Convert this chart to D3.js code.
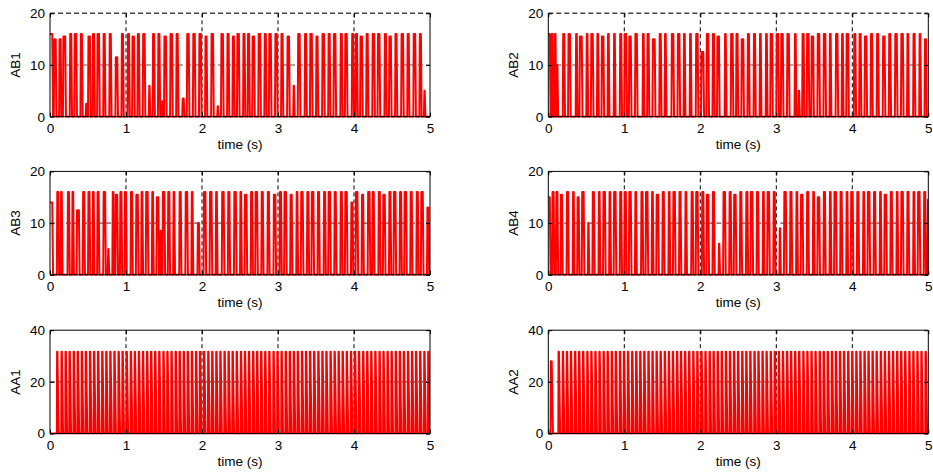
<!DOCTYPE html>
<html>
<head>
<meta charset="utf-8">
<script src="https://cdn.jsdelivr.net/npm/d3@7"></script>
<style>
  body { margin: 0; background: #fff; }
  svg { display: block; }
  text { font-family: "Liberation Sans", Arial, Helvetica, sans-serif; fill: #000; }
</style>
</head>
<body>
<svg id="fig" width="933" height="474"></svg>
<script>
// ---- data ----------------------------------------------------------------
const timeTicks = [0, 1, 2, 3, 4, 5];
const abTicks = [0, 10, 20];
const aaTicks = [0, 20, 40];
const xLabel = "time (s)";

// AB pulses: [on time (s), off time (s), level]
const ab1 = [[0.00,0.03,16],[0.05,0.075,15],[0.12,0.14,15],[0.17,0.20,15.5],[0.26,0.28,16],[0.32,0.345,16],[0.40,0.42,16],[0.47,0.48,2.5],
  [0.50,0.525,15.5],[0.56,0.58,16],[0.62,0.645,16],[0.70,0.72,16],[0.78,0.80,16],[0.86,0.885,11.5],[0.94,0.96,16],[1.02,1.04,16],
  [1.08,1.105,15.5],[1.15,1.17,16],[1.22,1.245,16],[1.30,1.31,6],[1.35,1.37,16],[1.42,1.44,16],[1.47,1.48,3],[1.50,1.525,15.5],
  [1.58,1.605,16],[1.66,1.68,16],[1.74,1.76,3.5],[1.80,1.825,16],[1.88,1.905,16],[1.96,1.985,16],[2.04,2.06,15.5],[2.12,2.145,16],
  [2.20,2.21,2],[2.25,2.275,16],[2.33,2.35,16],[2.40,2.42,15.5],[2.46,2.485,16],[2.54,2.56,16],[2.60,2.62,16],[2.66,2.685,15.5],
  [2.74,2.765,16],[2.82,2.84,16],[2.88,2.905,16],[2.96,2.985,16],[3.04,3.06,16],[3.12,3.145,15.5],[3.20,3.21,6],[3.26,3.285,16],
  [3.35,3.37,16],[3.42,3.445,16],[3.50,3.52,15.5],[3.58,3.605,16],[3.66,3.68,16],[3.73,3.755,16],[3.82,3.84,16],[3.88,3.905,16],
  [3.97,3.99,16],[4.02,4.04,16],[4.08,4.105,15.5],[4.16,4.18,16],[4.24,4.265,16],[4.31,4.335,16],[4.40,4.42,16],[4.46,4.485,15.5],
  [4.54,4.56,16],[4.62,4.645,16],[4.70,4.72,16],[4.78,4.805,16],[4.86,4.88,16],[4.92,4.93,5]];

const ab2 = [[0.00,0.02,16],[0.04,0.055,16],[0.08,0.095,16],[0.11,0.12,10],[0.19,0.21,16],[0.26,0.285,16],[0.36,0.375,16],[0.41,0.44,15.5],
  [0.50,0.515,16],[0.56,0.585,16],[0.64,0.655,16],[0.70,0.725,15.5],[0.78,0.795,16],[0.86,0.875,16],[0.94,0.96,16],[1.00,1.025,16],
  [1.06,1.085,15.5],[1.14,1.165,16],[1.24,1.255,16],[1.30,1.32,16],[1.37,1.40,15],[1.46,1.48,16],[1.53,1.545,16],[1.62,1.645,16],
  [1.70,1.725,16],[1.78,1.795,16],[1.86,1.875,16],[1.94,1.965,16],[2.01,2.04,12.5],[2.08,2.105,16],[2.16,2.18,16],[2.22,2.245,15.5],
  [2.32,2.335,16],[2.40,2.425,16],[2.47,2.49,16],[2.54,2.565,15],[2.62,2.64,16],[2.70,2.72,16],[2.78,2.795,16],[2.86,2.875,16],
  [2.92,2.945,16],[3.00,3.025,16],[3.06,3.085,16],[3.14,3.165,16],[3.24,3.255,16],[3.29,3.30,5],[3.34,3.36,16],[3.40,3.425,16],
  [3.46,3.485,15.5],[3.54,3.565,16],[3.62,3.645,16],[3.70,3.715,16],[3.78,3.805,16],[3.86,3.875,16],[3.92,3.945,16],[4.02,4.04,16],
  [4.09,4.11,16],[4.16,4.185,15.5],[4.24,4.26,16],[4.32,4.34,16],[4.40,4.425,15.5],[4.48,4.50,16],[4.56,4.585,16],[4.64,4.665,16],
  [4.72,4.735,16],[4.80,4.82,16],[4.88,4.895,16],[4.95,4.97,15]];

const ab3 = [[0.00,0.03,14],[0.09,0.11,16],[0.14,0.155,16],[0.23,0.25,16],[0.29,0.305,16],[0.35,0.38,12.5],[0.43,0.45,16],[0.50,0.52,16],
  [0.56,0.575,16],[0.62,0.64,16],[0.70,0.725,16],[0.76,0.77,5],[0.82,0.835,16],[0.86,0.885,15.5],[0.92,0.94,16],[0.98,1.00,16],
  [1.06,1.08,16],[1.13,1.155,15.5],[1.20,1.215,16],[1.26,1.285,16],[1.34,1.355,16],[1.40,1.425,15],[1.45,1.46,8.5],[1.48,1.505,16],
  [1.55,1.57,16],[1.62,1.635,16],[1.70,1.72,16],[1.78,1.805,16],[1.86,1.875,16],[1.94,1.96,10],[2.02,2.045,16],[2.10,2.125,16],
  [2.18,2.195,16],[2.26,2.285,16],[2.34,2.36,16],[2.42,2.445,16],[2.50,2.515,16],[2.56,2.585,15.5],[2.64,2.66,16],[2.70,2.725,16],
  [2.78,2.80,16],[2.86,2.88,16],[2.94,2.965,15.5],[3.02,3.04,16],[3.08,3.105,16],[3.16,3.18,15.5],[3.24,3.255,16],[3.30,3.325,16],
  [3.38,3.40,16],[3.44,3.465,16],[3.52,3.54,16],[3.60,3.62,16],[3.66,3.685,16],[3.74,3.76,16],[3.82,3.84,16],[3.88,3.905,16],
  [3.96,3.98,14],[4.02,4.045,16],[4.10,4.12,15.5],[4.18,4.205,16],[4.24,4.26,16],[4.32,4.34,16],[4.38,4.405,15.5],[4.46,4.48,16],
  [4.52,4.545,16],[4.60,4.62,16],[4.66,4.685,16],[4.74,4.76,16],[4.82,4.84,16],[4.88,4.905,16],[4.96,4.98,13]];

const ab4 = [[0.00,0.02,15],[0.05,0.07,16],[0.10,0.12,16],[0.16,0.18,15.5],[0.24,0.26,16],[0.32,0.335,16],[0.38,0.40,15],[0.44,0.465,16],
  [0.52,0.53,10],[0.58,0.60,16],[0.66,0.675,16],[0.72,0.745,16],[0.80,0.815,16],[0.86,0.885,16],[0.94,0.96,16],[1.00,1.02,16],
  [1.06,1.085,16],[1.14,1.155,16],[1.22,1.24,16],[1.28,1.305,16],[1.36,1.375,16],[1.42,1.445,15.5],[1.50,1.52,16],[1.58,1.595,16],
  [1.64,1.665,16],[1.72,1.74,16],[1.80,1.815,16],[1.88,1.90,16],[1.94,1.965,16],[2.02,2.04,16],[2.08,2.105,15.5],[2.16,2.18,16],
  [2.24,2.25,6],[2.30,2.325,16],[2.38,2.40,16],[2.44,2.465,15.5],[2.52,2.54,16],[2.60,2.62,16],[2.66,2.685,16],[2.74,2.76,16],
  [2.82,2.835,16],[2.88,2.905,16],[2.96,2.98,16],[3.04,3.05,9],[3.10,3.125,16],[3.18,3.20,16],[3.26,3.275,16],[3.32,3.345,15.5],
  [3.40,3.42,16],[3.48,3.495,16],[3.54,3.565,15],[3.62,3.64,16],[3.70,3.715,16],[3.76,3.785,16],[3.84,3.86,16],[3.92,3.935,16],
  [3.98,4.005,16],[4.06,4.08,16],[4.14,4.155,16],[4.20,4.225,16],[4.28,4.30,16],[4.36,4.375,16],[4.42,4.445,15.5],[4.50,4.52,16],
  [4.58,4.595,16],[4.64,4.665,16],[4.72,4.74,16],[4.80,4.815,16],[4.86,4.885,16],[4.94,4.96,16],[4.99,5.00,14.5]];

// AA pulses: on times (s); every AA pulse holds aaLevel for aaOnTime
const aaLevel = 31.7;
const aaOnTime = 0.008;
const aa1 = [0.090,0.148,0.201,0.253,0.308,0.360,0.414,0.467,0.522,0.575,0.628,0.683,0.736,0.789,0.843,0.898,0.950,1.004,
  1.059,1.111,1.165,1.218,1.273,1.326,1.379,1.433,1.488,1.540,1.594,1.649,1.701,1.755,1.808,1.862,1.917,1.969,2.023,2.078,
  2.130,2.184,2.237,2.292,2.345,2.398,2.452,2.507,2.560,2.613,2.668,2.720,2.774,2.827,2.881,2.936,2.988,3.042,3.097,3.150,
  3.203,3.256,3.311,3.364,3.417,3.471,3.526,3.579,3.632,3.687,3.740,3.793,3.846,3.900,3.955,4.008,4.061,4.116,4.169,4.222,
  4.276,4.331,4.383,4.437,4.490,4.545,4.598,4.651,4.706,4.759,4.812,4.866,4.921,4.973];
const aa2First = [0.030, 0.045, 28];
const aa2 = [0.132,0.187,0.240,0.293,0.348,0.401,0.454,0.509,0.562,0.615,0.669,0.723,0.776,0.830,0.883,0.938,0.991,1.044,
  1.099,1.152,1.205,1.258,1.313,1.366,1.420,1.473,1.528,1.581,1.634,1.689,1.741,1.795,1.848,1.903,1.956,2.010,2.063,2.118,
  2.170,2.224,2.277,2.332,2.385,2.439,2.492,2.547,2.600,2.653,2.708,2.760,2.814,2.867,2.922,2.975,3.029,3.082,3.137,3.189,
  3.243,3.296,3.351,3.404,3.458,3.511,3.566,3.619,3.672,3.727,3.779,3.833,3.886,3.941,3.994,4.048,4.101,4.156,4.208,4.262,
  4.315,4.370,4.423,4.477,4.530,4.585,4.638,4.691,4.746,4.798,4.852,4.905,4.960];

// ---- drawing -------------------------------------------------------------
const svg = d3.select("#fig");
const plotW = 380, plotH = 103.4;

function pulsePoints(pulses, rise, fall) {
  const pts = [];
  pulses.forEach(([t0, t1, v]) => {
    if (t0 <= 0) { pts.push([0, v]); }
    else { pts.push([t0, 0]); pts.push([t0 + rise, v]); }
    pts.push([t1, v]);
    if (t1 < 5) pts.push([t1 + fall, 0]);
  });
  if (pts.length && pts[0][0] > 0) pts.unshift([0, 0]);
  if (pts[pts.length - 1][0] < 5) pts.push([5, 0]);
  return pts;
}

const aa1Pulses = aa1.map(t => [t, t + aaOnTime, aaLevel]);
const aa2Pulses = [aa2First].concat(aa2.map(t => [t, Math.min(5, t + aaOnTime), aaLevel]));

const panels = [
  { name: "AB1", pts: pulsePoints(ab1, 0.006, 0.010), ymax: 20, ticks: abTicks, x0: 50,    y0: 13.3,  topRow: true },
  { name: "AB2", pts: pulsePoints(ab2, 0.006, 0.010), ymax: 20, ticks: abTicks, x0: 548.3, y0: 13.3,  topRow: true },
  { name: "AB3", pts: pulsePoints(ab3, 0.006, 0.010), ymax: 20, ticks: abTicks, x0: 50,    y0: 171.4 },
  { name: "AB4", pts: pulsePoints(ab4, 0.006, 0.010), ymax: 20, ticks: abTicks, x0: 548.3, y0: 171.4 },
  { name: "AA1", pts: pulsePoints(aa1Pulses, 0.003, 0.016), ymax: 40, ticks: aaTicks, x0: 50,    y0: 330.2 },
  { name: "AA2", pts: pulsePoints(aa2Pulses, 0.003, 0.016), ymax: 40, ticks: aaTicks, x0: 548.3, y0: 330.2 }
];

panels.forEach((p, i) => {
  const x = d3.scaleLinear().domain([0, 5]).range([p.x0, p.x0 + plotW]);
  const y = d3.scaleLinear().domain([0, p.ymax]).range([p.y0 + plotH, p.y0]);
  const g = svg.append("g");

  // grid (under the trace)
  g.selectAll(".vgrid").data(timeTicks.slice(1, -1)).enter().append("line")
    .attr("x1", d => x(d)).attr("x2", d => x(d))
    .attr("y1", p.y0).attr("y2", p.y0 + plotH)
    .attr("stroke", "#000").attr("stroke-width", 1).attr("stroke-dasharray", "4,3");
  g.selectAll(".hgrid").data(p.ticks.slice(1, -1)).enter().append("line")
    .attr("x1", p.x0).attr("x2", p.x0 + plotW)
    .attr("y1", d => y(d)).attr("y2", d => y(d))
    .attr("stroke", "#555").attr("stroke-width", 1.2).attr("stroke-dasharray", "5,3");

  // trace
  const clipId = "clip" + i;
  svg.append("clipPath").attr("id", clipId).append("rect")
    .attr("x", p.x0).attr("y", p.y0 - 1).attr("width", plotW).attr("height", plotH + 2);
  const line = d3.line().x(d => x(d[0])).y(d => y(d[1]));
  g.append("path").attr("d", line(p.pts))
    .attr("clip-path", `url(#${clipId})`)
    .attr("fill", "none").attr("stroke", "#ff0000").attr("stroke-width", 2)
    .attr("stroke-linejoin", "round");

  // box: the upper row shows its top edge as the dashed grid line at the axis maximum
  const x1 = p.x0 + plotW, yb = p.y0 + plotH;
  g.append("path").attr("d", `M${p.x0},${p.y0}V${yb}H${x1}V${p.y0}` + (p.topRow ? "" : `H${p.x0}`))
    .attr("fill", "none").attr("stroke", "#000").attr("stroke-width", 1);
  if (p.topRow) {
    g.append("line").attr("x1", p.x0).attr("x2", x1).attr("y1", p.y0).attr("y2", p.y0)
      .attr("stroke", "#444").attr("stroke-width", 1.4).attr("stroke-dasharray", "5,3");
  }

  // axes (inward ticks on all four sides)
  const ax = d3.axisBottom(x).tickValues(timeTicks).tickFormat(d3.format("d")).tickSizeInner(-4).tickSizeOuter(0).tickPadding(7);
  const axB = g.append("g").attr("transform", `translate(0,${yb})`).call(ax);
  const axT = g.append("g").attr("transform", `translate(0,${p.y0})`)
    .call(d3.axisTop(x).tickValues(timeTicks).tickFormat("").tickSizeInner(-4).tickSizeOuter(0));
  const axL = g.append("g").attr("transform", `translate(${p.x0},0)`)
    .call(d3.axisLeft(y).tickValues(p.ticks).tickFormat(d3.format("d")).tickSizeInner(-4).tickSizeOuter(0).tickPadding(5));
  const axR = g.append("g").attr("transform", `translate(${x1},0)`)
    .call(d3.axisRight(y).tickValues(p.ticks).tickFormat("").tickSizeInner(-4).tickSizeOuter(0));
  [axB, axT, axL, axR].forEach(a => {
    a.select(".domain").remove();
    a.selectAll("line").attr("stroke", "#000");
    a.selectAll("text").style("font-size", "13.5px").style("font-family", '"Liberation Sans", Arial, sans-serif').attr("fill", "#000");
  });

  // labels
  g.append("text").attr("x", p.x0 + plotW / 2).attr("y", yb + 32)
    .attr("text-anchor", "middle").style("font-size", "13.5px").text(xLabel);
  g.append("text").attr("transform", `translate(${p.x0 - 30},${p.y0 + plotH / 2}) rotate(-90)`)
    .attr("text-anchor", "middle").style("font-size", "13.5px").text(p.name);
});
</script>
</body>
</html>
